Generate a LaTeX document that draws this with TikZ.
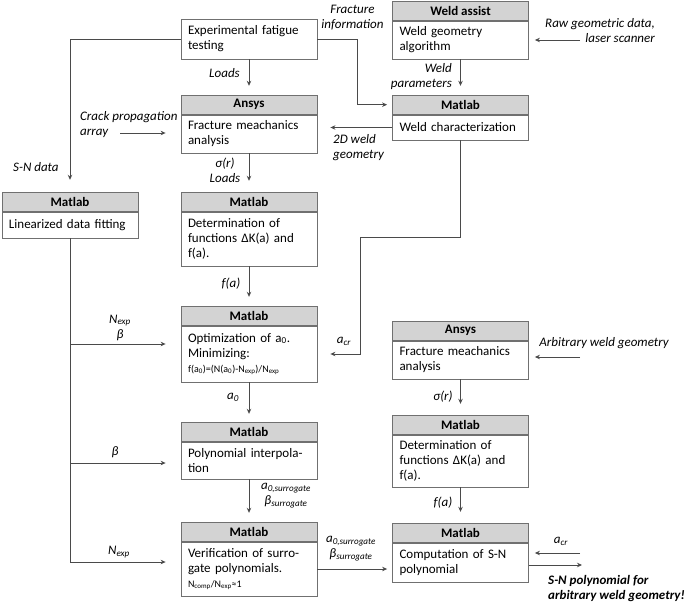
\documentclass[tikz,border=0pt]{standalone}
\usepackage{fontspec}
\setmainfont{Carlito}
\usepackage{xcolor}
\usetikzlibrary{arrows.meta,positioning,calc}

\definecolor{boxline}{HTML}{707070}
\definecolor{hdrfill}{HTML}{D3D3D3}
\definecolor{wirecol}{HTML}{4A4A4A}

\begin{document}
\begin{tikzpicture}[x=1pt, y=-1pt,
  body/.style={rectangle, draw=boxline, line width=0.8pt, fill=white,
               minimum width=136pt, text width=122pt, inner xsep=7pt,
               inner ysep=1pt, align=left,
               font=\fontsize{13}{15}\selectfont},
  hdr/.style={rectangle, draw=boxline, line width=0.8pt, fill=hdrfill,
              minimum width=136pt, minimum height=19pt, inner sep=0pt,
              font=\bfseries\fontsize{13}{14}\selectfont},
  lbl/.style={font=\itshape\fontsize{13}{15}\selectfont, inner sep=0pt},
  edge/.style={draw=wirecol, line width=0.8pt,
               -{Stealth[length=5pt,width=4.5pt]}, shorten >=9pt},
  wire/.style={draw=wirecol, line width=0.8pt},
]
  \useasboundingbox (0,0) rectangle (685,604);

  % ===== Top row =====
  \node[body, minimum height=40pt] (exptest) at (249,39)
       {Experimental fatigue\\testing};
  \node[body, minimum height=38pt] (weldalg) at (460.5,40)
       {Weld geometry\\algorithm};
  \node[hdr, above=0pt of weldalg] (weldalgH) {Weld assist};

  % ===== Second row =====
  \node[body, minimum height=38pt] (fracA) at (249,134)
       {Fracture meachanics\\analysis};
  \node[hdr, above=0pt of fracA] (fracAH) {Ansys};
  \node[body, minimum height=25pt] (weldchar) at (460.5,127.5)
       {Weld characterization};
  \node[hdr, above=0pt of weldchar] (weldcharH) {Matlab};

  % ===== Left column =====
  \node[body, minimum height=26pt] (linfit) at (70,225)
       {Linearized data fitting};
  \node[hdr, above=0pt of linfit] (linfitH) {Matlab};

  % ===== Middle column =====
  \node[body, minimum height=54pt] (detA) at (249,239)
       {Determination of\\functions ΔK(a) and\\f(a).};
  \node[hdr, above=0pt of detA] (detAH) {Matlab};
  \node[body, minimum height=56pt] (optim) at (249,354)
       {Optimization of a\textsubscript{0}.\\Minimizing:\\{\fontsize{10}{12}\selectfont f(a\textsubscript{0})=(N(a\textsubscript{0})-N\textsubscript{exp})/N\textsubscript{exp}}};
  \node[hdr, above=0pt of optim] (optimH) {Matlab};
  \node[body, minimum height=37pt] (polyint) at (249,460.5)
       {Polynomial interpola-\\tion};
  \node[hdr, above=0pt of polyint] (polyintH) {Matlab};
  \node[body, minimum height=54pt] (verif) at (249,569)
       {Verification of surro-\\gate polynomials.\\{\fontsize{10}{12}\selectfont N\textsubscript{comp}/N\textsubscript{exp}≈1}};
  \node[hdr, above=0pt of verif] (verifH) {Matlab};

  % ===== Right column =====
  \node[body, minimum height=38pt] (fracB) at (460.5,360)
       {Fracture meachanics\\analysis};
  \node[hdr, above=0pt of fracB] (fracBH) {Ansys};
  \node[body, minimum height=52pt] (detB) at (460.5,461)
       {Determination of\\functions ΔK(a) and\\f(a).};
  \node[hdr, above=0pt of detB] (detBH) {Matlab};
  \node[body, minimum height=39pt] (comput) at (460.5,562.5)
       {Computation of S-N\\polynomial};
  \node[hdr, above=0pt of comput] (computH) {Matlab};

  % ===== Free ends =====
  \coordinate (rawin) at (580,40);
  \coordinate (crackin) at (120,133);
  \coordinate (arbin) at (580,357);
  \coordinate (acrin) at (580,553);
  \coordinate (acrbend) at (360,237);
  \coordinate (brA) at (70,344);
  \coordinate (brB) at (70,463);
  \coordinate (brC) at (70,562);
  \coordinate (snout) at (582,565);

  % ===== Edges, top =====
  \draw[edge, shorten >=12pt] (exptest.west) -| (linfitH.north);
  \draw[edge] (exptest.south) -- (fracAH.north);
  \draw[edge, shorten >=5pt] (exptest.east) -- ++(40,0) |- (weldcharH.west);
  \draw[edge] (weldalg.south) -- (weldcharH.north);
  \draw[edge, shorten >=6pt] (rawin) -- (weldalg.east |- rawin);
  \draw[edge, shorten >=15pt] (crackin) -- (fracA.west |- crackin);
  \draw[edge, shorten >=13pt] (weldchar.west) -- (fracA.east |- weldchar.west);
  \draw[edge, shorten >=13pt] (weldchar.south) |- (acrbend) |- (optim.east);

  % ===== Edges, middle column =====
  \draw[edge, shorten >=11pt] (fracA.south) -- (detAH.north);
  \draw[edge] (detA.south) -- (optimH.north);
  \draw[edge, shorten >=8pt] (optim.south) -- (polyintH.north);
  \draw[edge] (polyint.south) -- (verifH.north);
  \draw[edge, shorten >=5pt] (verif.east) -- (verif.east -| comput.west);

  % ===== Edges, left spine =====
  \draw[wire] (linfit.south) -- (brC);
  \draw[edge, shorten >=15pt] (brA) -- (brA -| optim.west);
  \draw[edge, shorten >=15pt] (brB) -- (brB -| polyint.west);
  \draw[edge, shorten >=15pt] (brC) -- (brC -| verif.west);

  % ===== Edges, right column =====
  \draw[edge, shorten >=6pt] (arbin) -- (fracB.east |- arbin);
  \draw[edge, shorten >=11pt] (fracB.south) -- (detBH.north);
  \draw[edge, shorten >=11pt] (detB.south) -- (computH.north);
  \draw[edge, shorten >=6pt] (acrin) -- (acrin -| comput.east);
  \draw[edge, shorten >=0pt] (comput.east |- snout) -- (snout);

  % ===== Labels =====
  \node[lbl, align=center] (lblfrac) at (352.5,18) {Fracture\\information};
  \node[lbl, anchor=east] (lblloads) at (240,73) {Loads};
  \node[lbl, anchor=east, align=right] (lblweldpar) at (452,77) {Weld\\parameters};
  \node[lbl, anchor=east, align=right] (lblraw) at (655,30.5)
       {Raw geometric data,\\laser scanner};
  \node[lbl, anchor=west, align=left] (lblcrack) at (80,124.5)
       {Crack propagation\\array};
  \node[lbl, anchor=west, align=left] (lbl2d) at (333,147.5) {2D weld\\geometry};
  \node[lbl, anchor=west] (lblsn) at (13,167) {S-N data};
  \node[lbl, align=center] (lblsigA) at (225,170.5) {σ(r)\\Loads};
  \node[lbl] (lblfA) at (231,284) {f(a)};
  \node[lbl] (lblacrA) at (344,341) {a\textsubscript{cr}};
  \node[lbl, align=center] (lblnexpA) at (120,327.5)
       {N\textsubscript{exp}\\β};
  \node[lbl] (lblazero) at (233,397) {a\textsubscript{0}};
  \node[lbl] (lblbeta) at (115,452) {β};
  \node[lbl, align=center] (lblsurA) at (286,495.5)
       {a\textsubscript{0,surrogate}\\β\textsubscript{surrogate}};
  \node[lbl] (lblnexpB) at (119,552) {N\textsubscript{exp}};
  \node[lbl, align=center] (lblsurB) at (351,548.5)
       {a\textsubscript{0,surrogate}\\β\textsubscript{surrogate}};
  \node[lbl] (lblarb) at (604,343) {Arbitrary weld geometry};
  \node[lbl] (lblsigB) at (443,397) {σ(r)};
  \node[lbl] (lblfB) at (443,503) {f(a)};
  \node[lbl] (lblacrB) at (561,541) {a\textsubscript{cr}};
  \node[lbl, anchor=west, align=left, font=\bfseries\itshape\fontsize{13}{15}\selectfont]
       (lblresult) at (548,589) {S-N polynomial for\\arbitrary weld geometry!};
\end{tikzpicture}
\end{document}
